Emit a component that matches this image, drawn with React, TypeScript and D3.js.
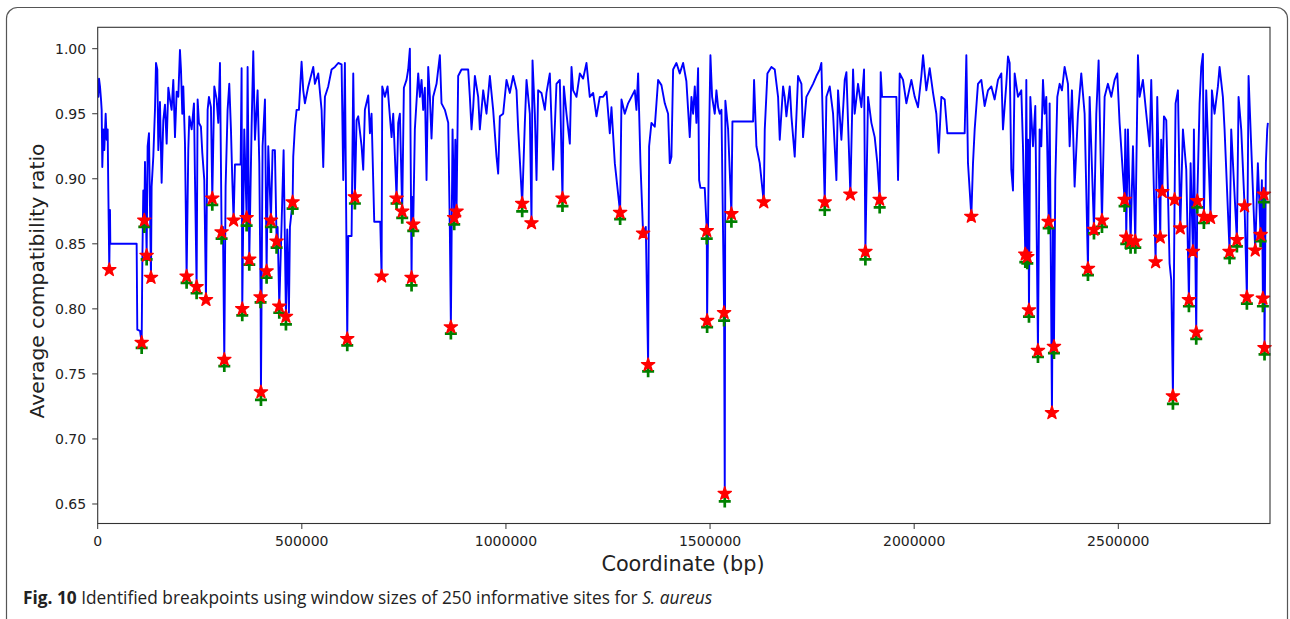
import * as d3 from "d3";

// breakpoint scan, S. aureus, window = 250 informative sites
const lineSeries: [number, number][] = [
  [0, 0.976], [1600, 0.963], [3200, 0.977], [5600, 0.971], [8100, 0.961], [9700, 0.953], [11300, 0.909], [13800, 0.938],
  [16200, 0.922], [19500, 0.95], [22000, 0.93], [24400, 0.938], [26000, 0.891], [28400, 0.83], [30100, 0.876], [30900, 0.85],
  [32600, 0.85], [95400, 0.85], [97000, 0.784], [103600, 0.783], [107700, 0.774], [109300, 0.835], [111700, 0.891], [114200, 0.868],
  [115800, 0.913], [119900, 0.841], [122300, 0.925], [125600, 0.935], [130500, 0.824], [132100, 0.894], [136200, 0.917], [140300, 0.953],
  [142800, 0.989], [146000, 0.984], [148500, 0.922], [152500, 0.959], [156600, 0.897], [160700, 0.945], [164800, 0.957], [168900, 0.927],
  [173000, 0.97], [177000, 0.961], [181100, 0.953], [185200, 0.976], [189300, 0.932], [193400, 0.967], [197400, 0.963], [201500, 0.999],
  [204000, 0.984], [207200, 0.95], [209700, 0.971], [213800, 0.927], [217800, 0.825], [221900, 0.922], [224400, 0.948], [230100, 0.938],
  [235800, 0.958], [238200, 0.902], [242300, 0.817], [244800, 0.961], [248000, 0.943], [252900, 0.94], [256200, 0.92], [261100, 0.899],
  [265200, 0.807], [269300, 0.953], [272500, 0.963], [277400, 0.955], [280700, 0.885], [285600, 0.971], [291300, 0.961], [295400, 0.943],
  [299500, 0.989], [303500, 0.859], [306800, 0.863], [310100, 0.761], [313300, 0.894], [318200, 0.953], [322300, 0.973], [326400, 0.938],
  [329700, 0.899], [332900, 0.868], [336200, 0.911], [350100, 0.911], [352500, 0.985], [354100, 0.8], [359000, 0.938], [364800, 0.87],
  [367200, 0.986], [371300, 0.838], [377000, 0.94], [381100, 0.998], [385200, 0.93], [391700, 0.968], [395800, 0.912], [399000, 0.809],
  [399900, 0.736], [403900, 0.925], [409700, 0.961], [413700, 0.829], [417800, 0.925], [424300, 0.868], [428400, 0.922], [434100, 0.922],
  [438200, 0.852], [440700, 0.863], [444800, 0.802], [450500, 0.866], [455400, 0.922], [461100, 0.794], [464300, 0.861], [468400, 0.797],
  [470900, 0.863], [477400, 0.882], [479000, 0.917], [483100, 0.94], [487200, 0.953], [492900, 0.953], [499400, 0.99], [503500, 0.968],
  [507600, 0.958], [515800, 0.971], [523900, 0.981], [528000, 0.986], [532100, 0.973], [540200, 0.981], [548400, 0.953], [552500, 0.909],
  [556600, 0.963], [564700, 0.971], [572900, 0.984], [581100, 0.986], [589200, 0.989], [597400, 0.988], [601500, 0.899], [605500, 0.989],
  [611300, 0.777], [613700, 0.856], [621900, 0.856], [626000, 0.981], [630000, 0.886], [634100, 0.945], [638200, 0.948], [646400, 0.925],
  [650400, 0.907], [654500, 0.953], [662700, 0.964], [666800, 0.935], [670800, 0.95], [677400, 0.867], [692100, 0.867], [695400, 0.825],
  [697000, 0.971], [703500, 0.963], [710000, 0.971], [715700, 0.948], [719800, 0.932], [723900, 0.95], [732100, 0.885], [736100, 0.943],
  [740200, 0.95], [745900, 0.875], [750000, 0.97], [756500, 0.976], [760600, 0.984], [764700, 1.0], [768800, 0.824], [770400, 0.886],
  [772900, 0.865], [776900, 0.938], [785100, 0.981], [789200, 0.963], [793300, 0.976], [797300, 0.953], [801400, 0.97], [805500, 0.899],
  [809600, 0.986], [813700, 0.963], [817700, 0.931], [821800, 0.963], [830000, 0.973], [838200, 0.995], [842200, 0.958], [850400, 0.953],
  [858600, 0.943], [862600, 0.861], [865100, 0.786], [869200, 0.938], [873300, 0.87], [876000, 0.93], [879000, 0.875], [883000, 0.979],
  [891200, 0.984], [907500, 0.984], [911600, 0.963], [915700, 0.938], [919800, 0.955], [923900, 0.979], [932000, 0.963], [936100, 0.938],
  [944300, 0.968], [952400, 0.95], [960600, 0.979], [968700, 0.953], [976900, 0.917], [981000, 0.904], [985100, 0.948], [993200, 0.95],
  [1001400, 0.976], [1009600, 0.966], [1017700, 0.979], [1025900, 0.968], [1030000, 0.938], [1039800, 0.881], [1046300, 0.943], [1050400, 0.976],
  [1058500, 0.95], [1062600, 0.866], [1065100, 0.991], [1070800, 0.95], [1074900, 0.899], [1078900, 0.968], [1087100, 0.966], [1095300, 0.953],
  [1099300, 0.966], [1107500, 0.981], [1115700, 0.907], [1123800, 0.973], [1132000, 0.976], [1138500, 0.885], [1141800, 0.971], [1148300, 0.95],
  [1156500, 0.927], [1160600, 0.986], [1164600, 0.968], [1172800, 0.963], [1181000, 0.981], [1189100, 0.977], [1197300, 0.989], [1205400, 0.963],
  [1213600, 0.966], [1221800, 0.948], [1229900, 0.963], [1238100, 0.963], [1246300, 0.967], [1254400, 0.935], [1258500, 0.955], [1266700, 0.912],
  [1279700, 0.874], [1283000, 0.961], [1291100, 0.95], [1299300, 0.958], [1307500, 0.963], [1315600, 0.968], [1319700, 0.953], [1323800, 0.981],
  [1329500, 0.912], [1336000, 0.858], [1342600, 0.863], [1348300, 0.757], [1350700, 0.925], [1356400, 0.943], [1364600, 0.94], [1368700, 0.958],
  [1372800, 0.976], [1380900, 0.972], [1389100, 0.958], [1397200, 0.95], [1401300, 0.912], [1405400, 0.917], [1409500, 0.984], [1417600, 0.989],
  [1425800, 0.981], [1434000, 0.989], [1442000, 0.975], [1450300, 0.932], [1454400, 0.963], [1458500, 0.95], [1462600, 0.971], [1466600, 0.943],
  [1470700, 0.985], [1473200, 0.899], [1476400, 0.893], [1487000, 0.893], [1491900, 0.86], [1492800, 0.791], [1496800, 0.917], [1500900, 0.995],
  [1505000, 0.963], [1511500, 0.95], [1515600, 0.968], [1519700, 0.955], [1523800, 0.95], [1527900, 0.953], [1534400, 0.797], [1536000, 0.658],
  [1537500, 0.96], [1544200, 0.938], [1552300, 0.873], [1554800, 0.944], [1605400, 0.944], [1607800, 0.976], [1613600, 0.925], [1621700, 0.912],
  [1631500, 0.882], [1634000, 0.938], [1640500, 0.981], [1650300, 0.986], [1658500, 0.984], [1666600, 0.963], [1670700, 0.93], [1678900, 0.971],
  [1682900, 0.963], [1687000, 0.948], [1695200, 0.971], [1699300, 0.948], [1707400, 0.917], [1715600, 0.979], [1723800, 0.973], [1727800, 0.932],
  [1736000, 0.963], [1744200, 0.968], [1752300, 0.973], [1760500, 0.979], [1768700, 0.984], [1772700, 0.989], [1780900, 0.882], [1785000, 0.963],
  [1793100, 0.971], [1801300, 0.95], [1809500, 0.899], [1813500, 0.968], [1821700, 0.93], [1829900, 0.976], [1834000, 0.982], [1843700, 0.888],
  [1850300, 0.984], [1854300, 0.95], [1862500, 0.973], [1870700, 0.955], [1877200, 0.984], [1880500, 0.844], [1887000, 0.963], [1895200, 0.943],
  [1903300, 0.932], [1909800, 0.912], [1915500, 0.884], [1918000, 0.982], [1921300, 0.963], [1956400, 0.963], [1960500, 0.899], [1964500, 0.981],
  [1972700, 0.976], [1980900, 0.958], [1993100, 0.976], [2001300, 0.963], [2009400, 0.955], [2017600, 0.979], [2021700, 0.995], [2029800, 0.968],
  [2038000, 0.985], [2046200, 0.966], [2054300, 0.95], [2060000, 0.92], [2066600, 0.963], [2074700, 0.961], [2081300, 0.935], [2123700, 0.935],
  [2127800, 0.995], [2131800, 0.912], [2140000, 0.871], [2144100, 0.912], [2148200, 0.938], [2156300, 0.973], [2164500, 0.976], [2172600, 0.956],
  [2180800, 0.968], [2189000, 0.971], [2197100, 0.961], [2205300, 0.976], [2213500, 0.981], [2217500, 0.938], [2225700, 0.973], [2229800, 0.994],
  [2233900, 0.989], [2237900, 0.907], [2242000, 0.891], [2246100, 0.981], [2254300, 0.963], [2262400, 0.968], [2266500, 0.925], [2272200, 0.842],
  [2274700, 0.976], [2277100, 0.84], [2279000, 0.93], [2281200, 0.799], [2284500, 0.963], [2291000, 0.925], [2296700, 0.956], [2303200, 0.768],
  [2307300, 0.938], [2311400, 0.925], [2315500, 0.976], [2319600, 0.95], [2323600, 0.963], [2329400, 0.867], [2331800, 0.958], [2337500, 0.72],
  [2340000, 0.861], [2342400, 0.771], [2345700, 0.899], [2350600, 0.963], [2356300, 0.973], [2362000, 0.968], [2368500, 0.986], [2376700, 0.973],
  [2380800, 0.925], [2386500, 0.968], [2393000, 0.894], [2401200, 0.95], [2409300, 0.981], [2417500, 0.95], [2425700, 0.831], [2429800, 0.963],
  [2440400, 0.861], [2446100, 0.95], [2451800, 0.991], [2460000, 0.868], [2466500, 0.963], [2474600, 0.973], [2482800, 0.963], [2491000, 0.976],
  [2497500, 0.981], [2503200, 0.943], [2515400, 0.884], [2517100, 0.938], [2519500, 0.855], [2523600, 0.938], [2530100, 0.852], [2535900, 0.925],
  [2541600, 0.852], [2548100, 0.995], [2552200, 0.963], [2560300, 0.976], [2568500, 0.95], [2576700, 0.925], [2580700, 0.976], [2591400, 0.836],
  [2595400, 0.963], [2602800, 0.855], [2605000, 0.93], [2607700, 0.89], [2611800, 0.948], [2617500, 0.945], [2625600, 0.835], [2629700, 0.822],
  [2633800, 0.733], [2637900, 0.884], [2640300, 0.958], [2646100, 0.968], [2651800, 0.862], [2658300, 0.938], [2666500, 0.907], [2673000, 0.807],
  [2677100, 0.912], [2682800, 0.844], [2685200, 0.938], [2690900, 0.782], [2693400, 0.883], [2699100, 0.958], [2703200, 0.986], [2707300, 0.996],
  [2709700, 0.871], [2715400, 0.968], [2726000, 0.87], [2729300, 0.968], [2735800, 0.95], [2744000, 0.971], [2748100, 0.986], [2756200, 0.963],
  [2760300, 0.938], [2772600, 0.844], [2776600, 0.938], [2790500, 0.853], [2794600, 0.963], [2801100, 0.938], [2809300, 0.879], [2815000, 0.809],
  [2819100, 0.979], [2824000, 0.938], [2835400, 0.845], [2841900, 0.912], [2848500, 0.857], [2851700, 0.899], [2854200, 0.808], [2856600, 0.888],
  [2858200, 0.77], [2861500, 0.912], [2864800, 0.938], [2866400, 0.943],
];

// red stars: identified breakpoints
const starX = [
  28400, 107700, 114200, 119900, 130500, 217800, 242300, 265200, 280700, 303500, 310100, 332900, 354100, 364800, 371300,
  399000, 399900, 413700, 424300, 438200, 444800, 461100, 477400, 611300, 630000, 695400, 732100, 745900, 768800, 772900,
  865100, 873300, 879000, 1039800, 1062600, 1138500, 1279700, 1336000, 1348300, 1491900, 1492800, 1534400, 1536000, 1552300,
  1631500, 1780900, 1843700, 1880500, 1915500, 2140000, 2272200, 2277100, 2281200, 2303200, 2329400, 2337500, 2342400,
  2425700, 2440400, 2460000, 2515400, 2519500, 2530100, 2541600, 2591400, 2602800, 2607700, 2633800, 2637900, 2651800,
  2673000, 2682800, 2690900, 2693400, 2709700, 2726000, 2772600, 2790500, 2809300, 2815000, 2835400, 2848500, 2854200,
  2856600, 2858200,
];
const starY = [
  0.83, 0.774, 0.868, 0.841, 0.824, 0.825, 0.817, 0.807, 0.885, 0.859, 0.761, 0.868, 0.8, 0.87, 0.838,
  0.809, 0.736, 0.829, 0.868, 0.852, 0.802, 0.794, 0.882, 0.777, 0.886, 0.825, 0.885, 0.875, 0.824, 0.865,
  0.786, 0.87, 0.875, 0.881, 0.866, 0.885, 0.874, 0.858, 0.757, 0.86, 0.791, 0.797, 0.658, 0.873,
  0.882, 0.882, 0.888, 0.844, 0.884, 0.871, 0.842, 0.84, 0.799, 0.768, 0.867, 0.72, 0.771,
  0.831, 0.861, 0.868, 0.884, 0.855, 0.852, 0.852, 0.836, 0.855, 0.89, 0.733, 0.884, 0.862,
  0.807, 0.844, 0.782, 0.883, 0.871, 0.87, 0.844, 0.853, 0.879, 0.809, 0.845, 0.857, 0.808,
  0.888, 0.77,
];

// green plus markers
const plusX = [
  107700, 114200, 119900, 217800, 242300, 280700, 303500, 310100, 354100, 364800, 371300, 399000, 399900, 413700, 424300,
  438200, 444800, 461100, 477400, 611300, 630000, 732100, 745900, 768800, 772900, 865100, 873300, 1039800, 1138500, 1279700,
  1348300, 1491900, 1492800, 1534400, 1536000, 1552300, 1780900, 1880500, 1915500, 2272200, 2277100, 2281200, 2303200,
  2329400, 2342400, 2425700, 2440400, 2460000, 2515400, 2519500, 2530100, 2541600, 2633800, 2673000, 2690900, 2693400,
  2709700, 2772600, 2790500, 2815000, 2848500, 2854200, 2856600, 2858200,
];
const plusY = [
  0.77, 0.863, 0.838, 0.82, 0.812, 0.88, 0.854, 0.756, 0.795, 0.864, 0.834, 0.805, 0.73, 0.824, 0.863,
  0.847, 0.797, 0.788, 0.877, 0.772, 0.881, 0.881, 0.87, 0.818, 0.86, 0.781, 0.865, 0.875, 0.879, 0.869,
  0.752, 0.854, 0.786, 0.791, 0.652, 0.867, 0.876, 0.838, 0.878, 0.836, 0.835, 0.794, 0.763,
  0.862, 0.766, 0.826, 0.858, 0.863, 0.879, 0.85, 0.847, 0.847, 0.727, 0.802, 0.777, 0.878,
  0.866, 0.839, 0.848, 0.804, 0.852, 0.802, 0.882, 0.765,
];

const yTicks = [0.65, 0.7, 0.75, 0.8, 0.85, 0.9, 0.95, 1.0];
const xTicks = [0, 500000, 1000000, 1500000, 2000000, 2500000];

const W = 1290;
const H = 619;
const plot = { left: 97.7, right: 1270, top: 27.3, bottom: 523.5 };

export default function App() {
  const x = d3.scaleLinear().domain([0, 2871600]).range([plot.left, plot.right]);
  const y = d3.scaleLinear().domain([0.635, 1.01645]).range([plot.bottom, plot.top]);

  const line = d3
    .line<[number, number]>()
    .x((d) => x(d[0]))
    .y((d) => y(d[1]));

  const star = d3.symbol().type(d3.symbolStar).size(54)() as string;
  const plus = "M-6,0H6M0,-6V6";

  const tickFont = "'DejaVu Sans', sans-serif";

  return (
    <svg
      width={W}
      height={H}
      viewBox={`0 0 ${W} ${H}`}
      style={{ position: "absolute", left: 0, top: 0, background: "#fff" }}
    >
      <rect x={0} y={0} width={W} height={H} fill="#fff" />
      <rect x={6.5} y={7.5} width={1281} height={720} rx={11} fill="none" stroke="#555" strokeWidth={1.2} />

      <defs>
        <clipPath id="plotclip">
          <rect x={plot.left} y={plot.top} width={plot.right - plot.left} height={plot.bottom - plot.top} />
        </clipPath>
      </defs>

      <g clipPath="url(#plotclip)">
        <path d={line(lineSeries) ?? ""} fill="none" stroke="#0000ff" strokeWidth={1.9} strokeLinejoin="round" />
      </g>

      {plusX.map((px, i) => (
        <path
          key={"p" + i}
          d={plus}
          transform={`translate(${x(px)},${y(plusY[i])})`}
          stroke="#008000"
          strokeWidth={2.7}
          fill="none"
        />
      ))}

      {starX.map((sx, i) => (
        <path
          key={"s" + i}
          d={star}
          transform={`translate(${x(sx)},${y(starY[i])})`}
          fill="#ff0000"
          stroke="#ff0000"
          strokeWidth={1.4}
          strokeLinejoin="round"
        />
      ))}

      {/* frame */}
      <rect
        x={plot.left}
        y={plot.top}
        width={plot.right - plot.left}
        height={plot.bottom - plot.top}
        fill="none"
        stroke="#333"
        strokeWidth={1.1}
      />

      {yTicks.map((t) => (
        <g key={"y" + t}>
          <line x1={plot.left - 5.5} x2={plot.left} y1={y(t)} y2={y(t)} stroke="#333" strokeWidth={1} />
          <text x={plot.left - 11.5} y={y(t) + 5} textAnchor="end" fontSize={14} fontFamily={tickFont} fill="#222">
            {t.toFixed(2)}
          </text>
        </g>
      ))}

      {xTicks.map((t) => (
        <g key={"x" + t}>
          <line x1={x(t)} x2={x(t)} y1={plot.bottom} y2={plot.bottom + 5.5} stroke="#333" strokeWidth={1} />
          <text x={x(t)} y={plot.bottom + 22} textAnchor="middle" fontSize={14} fontFamily={tickFont} fill="#222">
            {t}
          </text>
        </g>
      ))}

      <text x={683} y={571} textAnchor="middle" fontSize={20.8} fontFamily={tickFont} fill="#222">
        Coordinate (bp)
      </text>
      <text
        transform={`translate(44,281) rotate(-90)`}
        textAnchor="middle"
        fontSize={20.3}
        fontFamily={tickFont}
        fill="#222"
      >
        Average compatibility ratio
      </text>

      <text x={23} y={604} fontSize={17.3} fontFamily="'Open Sans', sans-serif" fill="#222">
        <tspan fontWeight="bold">Fig. 10</tspan>
        <tspan> Identified breakpoints using window sizes of 250 informative sites for </tspan>
        <tspan fontStyle="italic">S. aureus</tspan>
      </text>
    </svg>
  );
}
